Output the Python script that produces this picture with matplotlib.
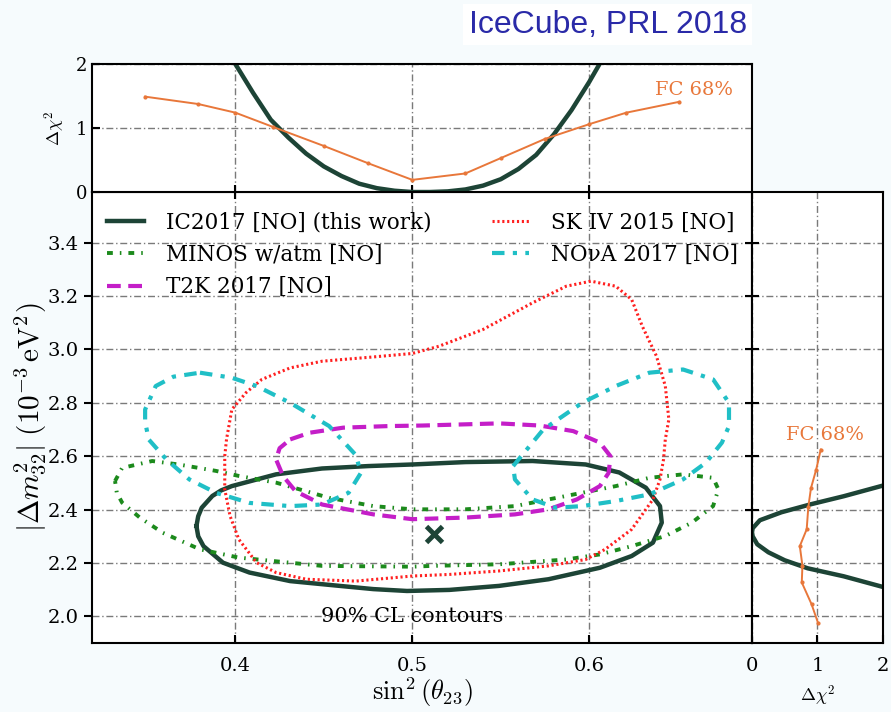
import numpy as np
import matplotlib
matplotlib.use("Agg")
import matplotlib.pyplot as plt

plt.rcParams['font.family'] = ['DejaVu Serif']
plt.rcParams['mathtext.fontset'] = 'cm'

# --- 90% CL contours in (sin^2 theta23, |dm^2_32| [1e-3 eV^2]) ---
ic_x = [0.378, 0.379, 0.381, 0.387, 0.392, 0.398, 0.423, 0.449, 0.475, 0.500, 0.530, 0.568,
        0.598, 0.617, 0.632, 0.640, 0.641, 0.636, 0.624, 0.606, 0.577, 0.549, 0.521, 0.497,
        0.478, 0.459, 0.431, 0.408, 0.393, 0.382, 0.379, 0.378]
ic_y = [2.338, 2.375, 2.407, 2.451, 2.472, 2.488, 2.532, 2.554, 2.563, 2.569, 2.578, 2.582,
        2.569, 2.539, 2.482, 2.413, 2.351, 2.276, 2.226, 2.182, 2.139, 2.114, 2.099, 2.095,
        2.102, 2.114, 2.132, 2.164, 2.201, 2.263, 2.300, 2.338]

minos_x = [0.332, 0.336, 0.353, 0.368, 0.389, 0.402, 0.423, 0.453, 0.478, 0.500, 0.530, 0.558,
           0.577, 0.596, 0.615, 0.634, 0.653, 0.670, 0.673, 0.670, 0.658, 0.643, 0.624, 0.606,
           0.587, 0.549, 0.511, 0.500, 0.449, 0.402, 0.380, 0.359, 0.346, 0.336, 0.333, 0.332]
minos_y = [2.507, 2.556, 2.582, 2.569, 2.545, 2.526, 2.501, 2.444, 2.413, 2.401, 2.401, 2.413,
           2.438, 2.463, 2.488, 2.519, 2.532, 2.519, 2.476, 2.413, 2.351, 2.301, 2.263, 2.232,
           2.213, 2.195, 2.189, 2.186, 2.189, 2.220, 2.251, 2.313, 2.370, 2.426, 2.463, 2.507]

t2k_x = [0.431, 0.442, 0.461, 0.487, 0.506, 0.549, 0.572, 0.591, 0.606, 0.612, 0.611, 0.606,
         0.593, 0.577, 0.558, 0.530, 0.500, 0.478, 0.449, 0.434, 0.427, 0.423, 0.425, 0.431]
t2k_y = [2.663, 2.688, 2.707, 2.713, 2.715, 2.723, 2.715, 2.694, 2.651, 2.600, 2.538, 2.488,
         2.438, 2.401, 2.382, 2.370, 2.364, 2.382, 2.419, 2.469, 2.525, 2.588, 2.630, 2.663]

sk_x = [0.395, 0.394, 0.394, 0.397, 0.402, 0.412, 0.423, 0.440, 0.468, 0.500, 0.521, 0.549,
        0.577, 0.598, 0.609, 0.624, 0.636, 0.640, 0.642, 0.643, 0.645, 0.643, 0.638, 0.630,
        0.624, 0.615, 0.601, 0.587, 0.568, 0.540, 0.515, 0.500, 0.478, 0.449, 0.431, 0.415,
        0.406, 0.398, 0.395]
sk_y = [2.663, 2.600, 2.476, 2.376, 2.288, 2.201, 2.164, 2.139, 2.132, 2.151, 2.157, 2.170,
        2.189, 2.213, 2.251, 2.326, 2.438, 2.513, 2.588, 2.663, 2.738, 2.863, 2.975, 3.087,
        3.187, 3.237, 3.256, 3.237, 3.175, 3.075, 3.012, 2.985, 2.972, 2.956, 2.931, 2.888,
        2.838, 2.775, 2.663]

nova_l_x = [0.380, 0.398, 0.412, 0.431, 0.453, 0.468, 0.471, 0.464, 0.449, 0.431, 0.408, 0.389,
            0.374, 0.361, 0.351, 0.349, 0.349, 0.355, 0.365, 0.380]
nova_l_y = [2.913, 2.894, 2.863, 2.800, 2.713, 2.605, 2.538, 2.463, 2.419, 2.413, 2.425, 2.463,
            2.513, 2.588, 2.663, 2.730, 2.775, 2.863, 2.898, 2.913]
nova_r_x = [0.557, 0.574, 0.596, 0.615, 0.634, 0.653, 0.670, 0.679, 0.679, 0.675, 0.666, 0.653,
            0.634, 0.615, 0.596, 0.581, 0.568, 0.558, 0.557]
nova_r_y = [2.563, 2.700, 2.800, 2.863, 2.913, 2.925, 2.888, 2.800, 2.713, 2.651, 2.576, 2.513,
            2.457, 2.432, 2.413, 2.407, 2.438, 2.513, 2.563]

best_fit = (0.512, 2.307)

# --- 1D profiles ---
top_x = [0.395, 0.40, 0.41, 0.42, 0.43, 0.44, 0.45, 0.46, 0.47, 0.48, 0.49, 0.50, 0.51,
         0.52, 0.53, 0.54, 0.55, 0.56, 0.57, 0.58, 0.59, 0.60, 0.61]
top_chi2 = [2.3, 2.0, 1.55, 1.13, 0.85, 0.60, 0.40, 0.25, 0.13, 0.06, 0.02, 0.0, 0.0,
            0.01, 0.04, 0.10, 0.20, 0.36, 0.58, 0.90, 1.28, 1.72, 2.2]
top_fc_x = [0.349, 0.379, 0.40, 0.421, 0.45, 0.475, 0.50, 0.53, 0.55, 0.575, 0.60, 0.621, 0.651]
top_fc = [1.49, 1.375, 1.24, 1.02, 0.72, 0.45, 0.19, 0.29, 0.53, 0.83, 1.06, 1.24, 1.41]

right_y = [2.08, 2.11, 2.15, 2.18, 2.21, 2.24, 2.27, 2.30, 2.315, 2.33, 2.36, 2.39, 2.42,
           2.45, 2.49, 2.52]
right_chi2 = [2.4, 2.0, 1.4, 0.85, 0.5, 0.25, 0.08, 0.01, 0.0, 0.01, 0.12, 0.45, 0.9,
              1.4, 2.0, 2.5]
right_fc_y = [2.625, 2.55, 2.48, 2.41, 2.326, 2.263, 2.19, 2.127, 2.045, 1.974]
right_fc = [1.05, 0.98, 0.90, 0.86, 0.835, 0.73, 0.77, 0.76, 0.91, 1.01]

c_ic = '#1d4436'
c_minos = '#1c8a1c'
c_t2k = '#c41ec8'
c_sk = '#ff2020'
c_nova = '#20bfc6'
c_fc = '#e8773a'
grid_kw = dict(color='#7a7a7a', linestyle=(0, (5, 2, 1, 2)), linewidth=1.0)

fig = plt.figure(figsize=(8.91, 7.12), dpi=100, facecolor='#f6fbfd')
ax = fig.add_axes([0.1033, 0.0969, 0.7407, 0.6334])
ax_top = fig.add_axes([0.1033, 0.7303, 0.7407, 0.1798], sharex=ax)
ax_r = fig.add_axes([0.8440, 0.0969, 0.1470, 0.6334], sharey=ax)

ax.plot(ic_x, ic_y, color=c_ic, lw=3.2, label='IC2017 [NO] (this work)')
ax.plot(minos_x, minos_y, color=c_minos, lw=2.8, linestyle=(0, (1.5, 1.8, 0.4, 1.8)),
        label='MINOS w/atm [NO]')
ax.plot(t2k_x, t2k_y, color=c_t2k, lw=3.0, linestyle=(0, (3.3, 1.8)), label='T2K 2017 [NO]')
ax.plot(sk_x, sk_y, color=c_sk, lw=2.2, linestyle=(0, (0.7, 0.9)), label='SK IV 2015 [NO]')
ax.plot(nova_l_x, nova_l_y, color=c_nova, lw=3.0, linestyle=(0, (3, 2, 1, 2)),
        label='NO\u03bdA 2017 [NO]')
ax.plot(nova_r_x, nova_r_y, color=c_nova, lw=3.0, linestyle=(0, (3, 2, 1, 2)))
ax.plot(*best_fit, marker='x', color=c_ic, markersize=11, mew=3.5, linestyle='none')

ax.text(0.50, 2.0, '90% CL contours', ha='center', va='center', fontsize=15)

ax.set_xlim(0.319, 0.692)
ax.set_ylim(1.9, 3.59)
ax.set_xticks([0.4, 0.5, 0.6])
ax.set_yticks([2.0, 2.2, 2.4, 2.6, 2.8, 3.0, 3.2, 3.4])
ax.set_yticklabels(['%.1f' % v for v in ax.get_yticks()])
ax.tick_params(axis='y', direction='out', length=6, width=1.5, labelsize=14)
ax.tick_params(axis='x', direction='in', length=6, width=1.5, labelsize=14, pad=10)
ax.grid(True, **grid_kw)
ax.set_xlabel(r'$\sin^2(\theta_{23})$', fontsize=19, labelpad=0)
ax.set_ylabel(r'$|\Delta m^2_{32}|\ (10^{-3}\,\mathrm{eV}^2)$', fontsize=21, labelpad=0)
ax.legend(loc='upper left', bbox_to_anchor=(0.0, 0.99), ncol=2, frameon=False,
          fontsize=15.5, handlelength=1.7, labelspacing=0.48, columnspacing=2.8,
          handletextpad=1.05, borderaxespad=0.3)

ax_top.plot(top_x, top_chi2, color=c_ic, lw=3.2)
ax_top.plot(top_fc_x, top_fc, color=c_fc, lw=1.4, marker='o', markersize=2)
ax_top.text(0.659, 1.59, 'FC 68%', color=c_fc, ha='center', va='center', fontsize=14)
ax_top.set_ylim(0, 2)
ax_top.set_yticks([0, 1, 2])
ax_top.tick_params(axis='x', direction='inout', length=10, width=1.5, labelbottom=False)
ax_top.tick_params(axis='y', direction='in', length=6, width=1.5, labelsize=13)
ax_top.grid(True, **grid_kw)
ax_top.set_ylabel(r'$\Delta\chi^2$', fontsize=13, labelpad=6)

ax_r.plot(right_chi2, right_y, color=c_ic, lw=3.2)
ax_r.plot(right_fc, right_fc_y, color=c_fc, lw=1.4, marker='o', markersize=2)
ax_r.text(1.11, 2.68, 'FC 68%', color=c_fc, ha='center', va='center', fontsize=14)
ax_r.set_xlim(0, 2)
ax_r.set_xticks([0, 1, 2])
ax_r.tick_params(axis='y', direction='inout', length=10, width=1.5, labelleft=False)
ax_r.tick_params(axis='x', direction='in', length=6, width=1.5, labelsize=14, pad=10)
ax_r.grid(True, **grid_kw)
ax_r.set_xlabel(r'$\Delta\chi^2$', fontsize=13, labelpad=6)

for a in (ax, ax_top, ax_r):
    for s in a.spines.values():
        s.set_linewidth(1.5)

fig.text(0.682, 0.965, 'IceCube, PRL 2018', fontsize=23, color='#2a2aa8',
         family='Liberation Sans', ha='center', va='center',
         bbox=dict(facecolor='white', edgecolor='none', pad=4))

fig.savefig('out.png', dpi=100, facecolor=fig.get_facecolor())
